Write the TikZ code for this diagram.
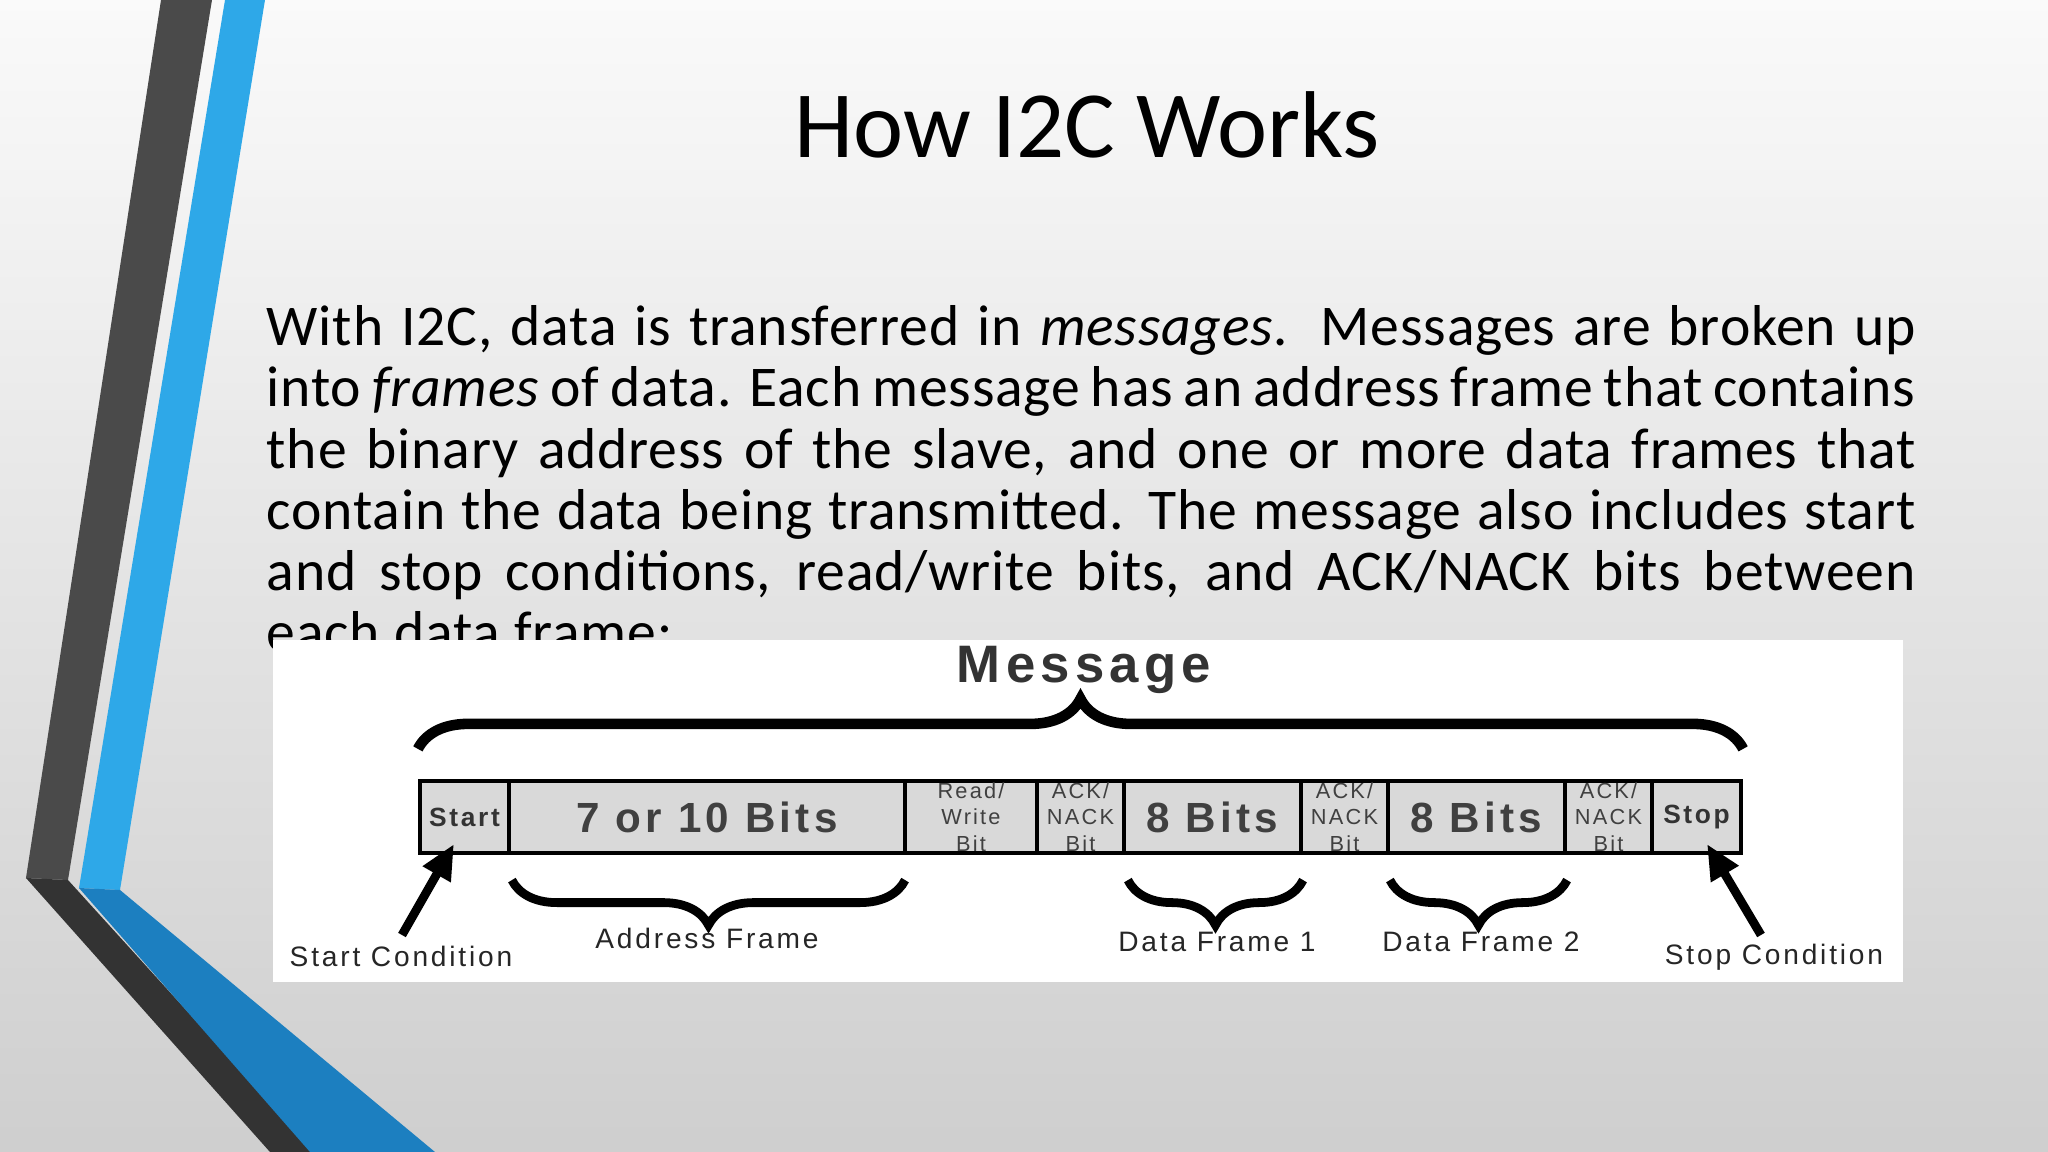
\documentclass[tikz,border=0pt]{standalone}
\usepackage{fontspec}
\setmainfont{Carlito}
\newfontfamily\paraf[LetterSpace=1.5]{Carlito}
\newfontfamily\diag[LetterSpace=10]{Liberation Sans}
\usetikzlibrary{decorations.pathreplacing,arrows.meta}
\definecolor{dgray}{HTML}{4A4A4A}
\definecolor{sblue}{HTML}{2EA8E8}
\definecolor{dblue}{HTML}{1C7FC0}
\definecolor{barfill}{HTML}{D9D9D9}
\tikzset{
 cell/.style={draw=black,line width=1.2pt,fill=barfill,minimum height=0.72cm,inner sep=0pt,font=\diag},
 small/.style={font=\diag\fontsize{6.2}{7.6}\selectfont,align=center,text=black!75},
 big/.style={font=\diag\fontsize{12}{14}\selectfont\bfseries,text=black!75},
 lbl/.style={font=\diag\fontsize{8}{10}\selectfont,text=black!85},
 bigbrace/.style={decorate,decoration={brace,amplitude=0.5cm},line width=3pt},
 subbrace/.style={decorate,decoration={brace,amplitude=0.45cm,mirror},line width=2.5pt},
 arr/.style={line width=2.5pt,-{Triangle[length=0.35cm,width=0.3cm]}}
}
\begin{document}
\begin{tikzpicture}
\useasboundingbox (0,0) rectangle (20.48,-11.52);
\shade[top color=gray!4,bottom color=gray!38] (0,0) rectangle (20.48,-11.52);
% left decoration
\fill[dgray] (1.61,0) -- (2.12,0) -- (0.68,-8.8) -- (0.26,-8.78) -- cycle;
\fill[sblue] (2.25,0) -- (2.65,0) -- (1.2,-8.9) -- (0.79,-8.88) -- cycle;
\fill[black!80] (0.26,-8.78) -- (0.68,-8.8) -- (3.15,-11.52) -- (2.7,-11.52) -- cycle;
\fill[dblue] (0.79,-8.88) -- (1.2,-8.9) -- (4.35,-11.52) -- (3.1,-11.52) -- cycle;
% title
\node (title) at (10.87,-1.25) {\fontsize{27}{32}\selectfont How I2C Works};
% paragraph
\node[anchor=north west,text width=16.49cm,align=justify,inner sep=0pt] (para) at (2.66,-3.05)
{\paraf\fontsize{16.4}{17.4}\selectfont\hyphenpenalty=10000 \exhyphenpenalty=10000 With I2C, data is transferred in \emph{messages.} Messages are broken up into \emph{frames} of data. Each message has an address frame that contains the binary address of the slave, and one or more data frames that contain the data being transmitted. The message also includes start and stop conditions, read/write bits, and ACK/NACK bits between each data frame:\par};
% diagram
\fill[white] (2.73,-6.40) rectangle (19.03,-9.82);
\node[cell,minimum width=0.89cm] (start) at (4.645,-8.17) {};
\node[cell,minimum width=3.96cm] (addr) at (7.07,-8.17) {};
\node[cell,minimum width=1.32cm] (rw) at (9.71,-8.17) {};
\node[cell,minimum width=0.87cm] (ack1) at (10.805,-8.17) {};
\node[cell,minimum width=1.77cm] (d1) at (12.125,-8.17) {};
\node[cell,minimum width=0.87cm] (ack2) at (13.445,-8.17) {};
\node[cell,minimum width=1.77cm] (d2) at (14.765,-8.17) {};
\node[cell,minimum width=0.87cm] (ack3) at (16.085,-8.17) {};
\node[cell,minimum width=0.89cm] (stop) at (16.965,-8.17) {};
\node[font=\diag\fontsize{7.5}{9}\selectfont\bfseries,text=black!80] at (start) {Start};
\node[big] at (addr) {7 or 10 Bits};
\node[small] at (rw) {Read/\\Write\\Bit};
\node[small] at (ack1) {ACK/\\NACK\\Bit};
\node[big] at (d1) {8 Bits};
\node[small] at (ack2) {ACK/\\NACK\\Bit};
\node[big] at (d2) {8 Bits};
\node[small] at (ack3) {ACK/\\NACK\\Bit};
\node[font=\diag\fontsize{7.5}{9}\selectfont\bfseries,text=black!80] at (stop) {Stop};
\node[font=\diag\fontsize{15}{18}\selectfont\bfseries,text=black!80] (msg) at (10.84,-6.70) {Message};
\draw[bigbrace] ([yshift=0.3cm]start.north west) -- ([yshift=0.3cm]stop.north east);
\draw[subbrace] ([xshift=0.05cm,yshift=-0.25cm]addr.south west) -- ([xshift=-0.02cm,yshift=-0.25cm]addr.south east);
\draw[subbrace] ([xshift=0.06cm,yshift=-0.25cm]d1.south west) -- ([yshift=-0.25cm]d1.south east);
\draw[subbrace] ([xshift=0.04cm,yshift=-0.25cm]d2.south west) -- ([yshift=-0.25cm]d2.south east);
\node[lbl] (af) at (7.07,-9.38) {Address Frame};
\node[lbl] (df1) at (12.17,-9.42) {Data Frame 1};
\node[lbl] (df2) at (14.81,-9.42) {Data Frame 2};
\node[lbl] (sc) at (4.01,-9.56) {Start Condition};
\node[lbl] (pc) at (17.74,-9.57) {Stop Condition};
\coordinate (sa) at (4.02,-9.35);
\coordinate (sb) at (4.54,-8.44);
\coordinate (pa) at (17.61,-9.35);
\coordinate (pb) at (17.07,-8.44);
\draw[arr] (sa) -- (sb);
\draw[arr] (pa) -- (pb);
\end{tikzpicture}
\end{document}
